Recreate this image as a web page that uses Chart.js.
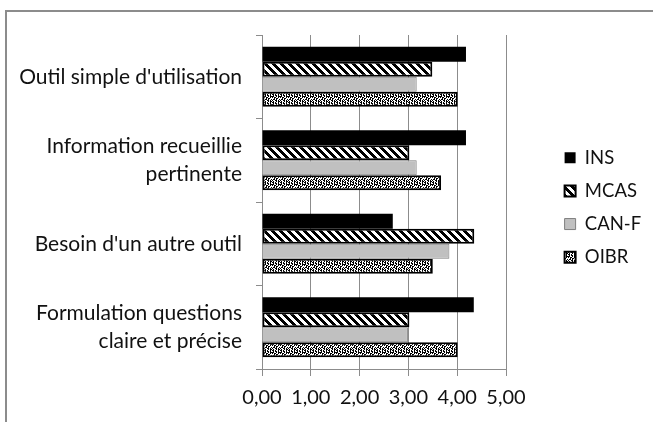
<!DOCTYPE html>
<html>
<head>
<meta charset="utf-8">
<script src="https://cdn.jsdelivr.net/npm/chart.js@4"></script>
<style>
  html, body { margin: 0; padding: 0; background: #fff; }
  #wrap { position: relative; width: 653px; height: 422px; overflow: hidden; }
  #frame { position: absolute; left: 5px; top: 10px; width: 660px; height: 440px;
           border-top: 2px solid #8c8c8c; border-left: 2px solid #8c8c8c; box-sizing: border-box; }
  canvas { position: absolute; left: 0; top: 0; }
</style>
</head>
<body>
<div id="wrap"><div id="frame"></div><canvas id="c" width="653" height="422"></canvas></div>
<script>
// Categories (multi-line labels as arrays)
const categories = [
  "Outil simple d'utilisation",
  ["Information recueillie", "pertinente"],
  "Besoin d'un autre outil",
  ["Formulation questions", "claire et précise"]
];

// Mean scores per tool
const insValues  = [4.18, 4.18, 2.68, 4.34];
const mcasValues = [3.49, 3.02, 4.35, 3.02];
const canfValues = [3.17, 3.17, 3.84, 2.99];
const oibrValues = [4.01, 3.67, 3.50, 4.01];

const seriesNames = ['INS', 'MCAS', 'CAN-F', 'OIBR'];
const tickLabels = ['0,00', '1,00', '2,00', '3,00', '4,00', '5,00'];

const FONT = 'Lato, "DejaVu Sans", sans-serif';
const GRID = '#8c8c8c';
const TEXT = '#111';

// Fill patterns
function makePattern(size, isBlack) {
  const c = document.createElement('canvas');
  c.width = c.height = size;
  const g = c.getContext('2d');
  g.fillStyle = '#fff';
  g.fillRect(0, 0, size, size);
  g.fillStyle = '#000';
  for (let y = 0; y < size; y++) {
    for (let x = 0; x < size; x++) {
      if (isBlack(x, y)) g.fillRect(x, y, 1, 1);
    }
  }
  return g.createPattern(c, 'repeat');
}

// wide downward diagonal stripes
const stripes = makePattern(8, (x, y) => (((x - y) % 8) + 8) % 8 < 4);

// dense confetti
const DOT_TILE = [
  '##..#.##',
  '#.##..#.',
  '..#.##..',
  '.##.#..#',
  '#..##.#.',
  '.#..#.##',
  '##.#..#.',
  '.#.##.#.'
];
const confetti = makePattern(8, (x, y) => DOT_TILE[y][x] === '#');

// Legend sits to the right of the plot, independent of the layout
const LEGEND_LEFT = 550;
const LEGEND_TOP = 134;
const legendPlacer = {
  id: 'legendPlacer',
  afterLayout(chart) {
    const lg = chart.legend;
    if (!lg) return;
    const w = lg.width, h = lg.height;
    lg.left = LEGEND_LEFT;
    lg.top = LEGEND_TOP;
    lg.right = LEGEND_LEFT + w;
    lg.bottom = LEGEND_TOP + h;
  }
};

new Chart(document.getElementById('c'), {
  type: 'bar',
  data: {
    labels: categories,
    datasets: [
      { label: seriesNames[0], data: insValues, backgroundColor: '#000', borderWidth: 0 },
      { label: seriesNames[1], data: mcasValues, backgroundColor: stripes, borderColor: '#000', borderWidth: 2, borderSkipped: false },
      { label: seriesNames[2], data: canfValues, backgroundColor: '#c0c0c0', borderColor: '#7f7f7f', borderWidth: 1 },
      { label: seriesNames[3], data: oibrValues, backgroundColor: confetti, borderColor: '#000', borderWidth: 2, borderSkipped: false }
    ]
  },
  options: {
    indexAxis: 'y',
    responsive: false,
    animation: false,
    devicePixelRatio: 1,
    datasets: { bar: { categoryPercentage: 0.72, barPercentage: 1 } },
    layout: { padding: { left: 0, top: 35, right: 147, bottom: 0 } },
    scales: {
      x: {
        min: 0, max: 5,
        ticks: {
          stepSize: 1,
          padding: 10,
          color: TEXT,
          font: { family: FONT, size: 20 },
          callback: (v, i) => tickLabels[i]
        },
        grid: { color: GRID, lineWidth: 1, tickLength: 7 },
        border: { color: GRID, width: 1 },
        afterFit: (s) => { s.height = 53; s.paddingLeft = 0; s.paddingRight = 0; }
      },
      y: {
        ticks: {
          padding: 14,
          color: TEXT,
          font: { family: FONT, size: 21, lineHeight: 1.35 }
        },
        grid: { drawOnChartArea: false, tickLength: 6, color: GRID },
        border: { color: GRID, width: 1 },
        afterFit: (s) => { s.width = 262; s.paddingTop = 0; s.paddingBottom = 0; }
      }
    },
    plugins: {
      legend: {
        position: 'chartArea',
        align: 'start',
        labels: {
          boxWidth: 11,
          boxHeight: 11,
          padding: 14.6,
          color: TEXT,
          font: { family: FONT, size: 18.5 }
        }
      },
      tooltip: { enabled: false }
    }
  },
  plugins: [legendPlacer]
});
</script>
</body>
</html>
